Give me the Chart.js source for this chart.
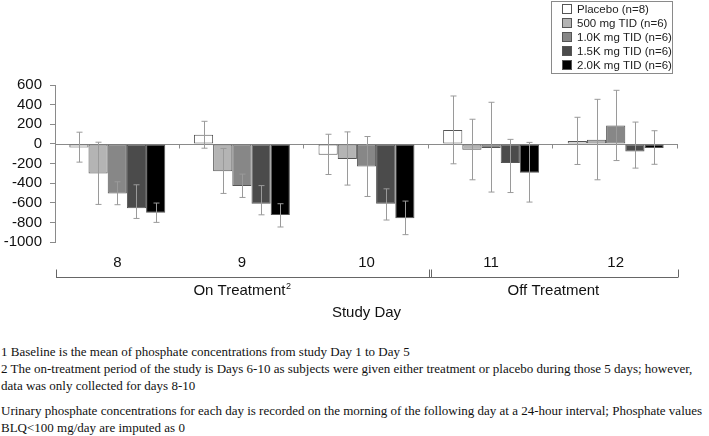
<!DOCTYPE html>
<html>
<head>
<meta charset="utf-8">
<script src="https://cdn.jsdelivr.net/npm/chart.js@4.4.1/dist/chart.umd.min.js"></script>
<style>
  body { margin: 0; background: #fff; }
  #wrap { position: relative; width: 709px; height: 436px; }
  #box { position: absolute; left: 0; top: 0; width: 709px; height: 330px; }
  .note { position: absolute; left: 1px; font-family: "Liberation Serif", "Times New Roman", serif; font-size: 13px; color: #111; white-space: nowrap; }
</style>
</head>
<body>
<div id="wrap">
  <div id="box"><canvas id="myChart"></canvas></div>
  <div class="note" style="top:344px">1 Baseline is the mean of phosphate concentrations from study Day 1 to Day 5</div>
  <div class="note" style="top:361px">2 The on-treatment period of the study is Days 6-10 as subjects were given either treatment or placebo during those 5 days; however,</div>
  <div class="note" style="top:378px">data was only collected for days 8-10</div>
  <div class="note" style="top:403px">Urinary phosphate concentrations for each day is recorded on the morning of the following day at a 24-hour interval; Phosphate values</div>
  <div class="note" style="top:420px">BLQ&lt;100 mg/day are imputed as 0</div>
</div>
<script>
//study days and the two periods
const days = ['8', '9', '10', '11', '12'];
const periods = ['On Treatment', 'Off Treatment'];
const periodEnds = [3, 5]; //period ends after this many days
const seriesNames = ['Placebo (n=8)', '500 mg TID (n=6)', '1.0K mg TID (n=6)', '1.5K mg TID (n=6)', '2.0K mg TID (n=6)'];
const yTicks = [600, 400, 200, 0, -200, -400, -600, -800, -1000];

//change from baseline, with upper / lower ends of the error bars
const placebo   = [-37, 93, -110, 142, 30];
const placeboHi = [119, 230, 98, 488, 271];
const placeboLo = [-186, -44, -312, -203, -210];
const mg500   = [-302, -278, -153, -61, 41];
const mg500Hi = [17, -47, 122, 251, 454];
const mg500Lo = [-617, -505, -420, -366, -366];
const mg1000   = [-505, -430, -230, -41, 188];
const mg1000Hi = [-386, -308, 75, 424, 546];
const mg1000Lo = [-620, -546, -536, -491, -170];
const mg1500   = [-655, -610, -610, -195, -78];
const mg1500Hi = [-417, -425, -458, 46, 222];
const mg1500Lo = [-760, -723, -776, -496, -247];
const mg2000   = [-702, -725, -759, -293, -43];
const mg2000Hi = [-603, -610, -583, 15, 134];
const mg2000Lo = [-800, -847, -925, -593, -208];

const fills = ['#ffffff', '#b4b4b4', '#878787', '#4b4b4b', '#000000'];
const values = [placebo, mg500, mg1000, mg1500, mg2000];
const highs = [placeboHi, mg500Hi, mg1000Hi, mg1500Hi, mg2000Hi];
const lows = [placeboLo, mg500Lo, mg1000Lo, mg1500Lo, mg2000Lo];

const SANS = '"Liberation Sans", Arial, sans-serif';

//zero line, error bars, day labels, period bracket and legend
var extras = {
	id: 'extras',
	beforeDatasetsDraw: function(chart) {
		const c = chart.ctx, y = chart.scales.y;
		const y0 = Math.round(y.getPixelForValue(0)) + 0.5;
		c.save();
		c.strokeStyle = '#8a8a8a';
		c.lineWidth = 1;
		c.beginPath();
		c.moveTo(chart.chartArea.left, y0);
		c.lineTo(chart.chartArea.right, y0);
		//small ticks between days
		const step = (chart.chartArea.right - chart.chartArea.left) / days.length;
		for (var i = 1; i <= days.length; i++) {
			var tx = Math.round(chart.chartArea.left + step * i) - 0.5;
			c.moveTo(tx, y0);
			c.lineTo(tx, y0 + 4);
		}
		c.stroke();
		c.restore();
	},
	afterDatasetsDraw: function(chart) {
		const c = chart.ctx, x = chart.scales.x, y = chart.scales.y;
		const area = chart.chartArea;
		c.save();
		//error bars
		c.strokeStyle = '#9a9a9a';
		c.lineWidth = 1;
		for (var d = 0; d < values.length; d++) {
			var meta = chart.getDatasetMeta(d);
			meta.data.forEach(function(bar, i) {
				var bx = Math.round(bar.x) + 0.5;
				var top = y.getPixelForValue(highs[d][i]);
				var bot = y.getPixelForValue(lows[d][i]);
				c.beginPath();
				c.moveTo(bx, top);
				c.lineTo(bx, bot);
				c.moveTo(bx - 3, top);
				c.lineTo(bx + 3, top);
				c.moveTo(bx - 3, bot);
				c.lineTo(bx + 3, bot);
				c.stroke();
			});
		}
		//day labels
		c.fillStyle = '#111';
		c.font = '15px ' + SANS;
		c.textAlign = 'center';
		c.textBaseline = 'middle';
		days.forEach(function(day, i) {
			c.fillText(day, x.getPixelForValue(i), 263);
		});
		//period bracket
		const step = (area.right - area.left) / days.length;
		const by = 277.5;
		c.strokeStyle = '#666';
		c.beginPath();
		c.moveTo(area.left + 1, by);
		c.lineTo(area.right, by);
		var edges = [0].concat(periodEnds);
		edges.forEach(function(e) {
			var ex = Math.round(area.left + step * e) + 0.5;
			if (e == 0) ex += 1;
			c.moveTo(ex, by);
			c.lineTo(ex, by - 8);
		});
		c.stroke();
		var midX = Math.round(area.left + step * periodEnds[0]) + 2.5;
		c.beginPath();
		c.moveTo(midX, by);
		c.lineTo(midX, by - 8);
		c.stroke();
		//period names
		var start = 0;
		periods.forEach(function(p, k) {
			var cx = area.left + step * (start + periodEnds[k]) / 2;
			start = periodEnds[k];
			c.font = '15px ' + SANS;
			if (k == 0) {
				var w = c.measureText(p).width;
				c.font = '9px ' + SANS;
				var w2 = c.measureText('2').width;
				var sx = cx - (w + w2) / 2;
				c.textAlign = 'left';
				c.font = '15px ' + SANS;
				c.fillText(p, sx, 291);
				c.font = '9px ' + SANS;
				c.fillText('2', sx + w + 0.5, 287);
			} else {
				c.textAlign = 'center';
				c.fillText(p, cx, 291);
			}
		});
		c.textAlign = 'center';
		c.font = '15px ' + SANS;
		c.fillText('Study Day', (area.left + area.right) / 2, 313);
		//legend box
		c.strokeStyle = '#8a8a8a';
		c.strokeRect(551.5, 1.5, 121, 72);
		c.font = '11.5px ' + SANS;
		c.textAlign = 'left';
		seriesNames.forEach(function(name, i) {
			var ly = 9 + i * 14;
			c.fillStyle = fills[i];
			c.fillRect(562, ly - 5, 10, 10);
			c.strokeStyle = '#555';
			c.strokeRect(562.5, ly - 4.5, 9, 9);
			c.fillStyle = '#222';
			c.fillText(name, 577, ly + 0.5);
		});
		c.restore();
	}
};

var ctx = document.getElementById('myChart');
var chart = new Chart(ctx, {
	type: 'bar',
	data: {
		labels: days,
		datasets: seriesNames.map(function(name, i) {
			return {
				label: name,
				data: values[i],
				backgroundColor: fills[i],
				borderColor: '#555',
				borderWidth: 1,
				borderSkipped: false,
				categoryPercentage: 0.77,
				barPercentage: 1.0
			};
		})
	},
	options: {
		responsive: true,
		maintainAspectRatio: false,
		animation: false,
		layout: { padding: { left: 0, right: 31, top: 85, bottom: 88 } },
		plugins: { legend: { display: false }, tooltip: { enabled: false } },
		scales: {
			x: { display: false },
			y: {
				min: -1000,
				max: 600,
				afterFit: function(scale) { scale.width = 55; },
				afterBuildTicks: function(scale) {
					scale.ticks = yTicks.map(function(v) { return { value: v }; });
				},
				border: { display: true, color: '#8a8a8a' },
				grid: { drawOnChartArea: false, drawTicks: true, tickLength: 5, color: '#8a8a8a' },
				ticks: {
					autoSkip: false,
					padding: 8,
					color: '#111',
					font: { family: SANS, size: 15 },
					callback: function(v) { return String(v); }
				}
			}
		}
	},
	plugins: [extras]
});
</script>
</body>
</html>
